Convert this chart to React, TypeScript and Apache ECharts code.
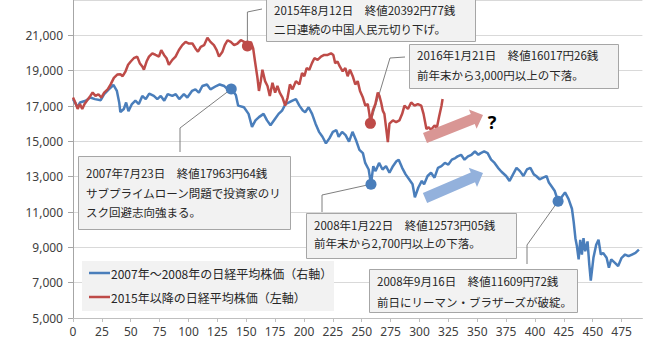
import React, { useEffect, useRef } from "react";
import * as echarts from "echarts";

const blueName = "2007年～2008年の日経平均株価（右軸）";
const redName = "2015年以降の日経平均株価（左軸）";

const xMin = 0;
const xMax = 493;
const xInterval = 25;
const yMin = 5000;
const yMax = 23000;
const yInterval = 2000;

// [trading day, close]
const blueSeries: [number, number][] = [
  [0, 17390], [4, 16930], [6, 17200], [11, 17300], [15, 17480], [19, 17390], [24, 17330], [27, 17670],
  [31, 17940], [35, 18190], [38, 17850], [40, 17200], [41, 16650], [44, 16830], [46, 17200], [48, 16700],
  [51, 17110], [54, 17300], [57, 17110], [60, 17570], [63, 17390], [66, 17700], [70, 17570], [73, 17390],
  [76, 17570], [79, 17300], [82, 17670], [86, 17570], [89, 17670], [92, 17390], [96, 17670], [99, 17480],
  [103, 17850], [106, 17940], [109, 17760], [112, 18130], [116, 18220], [119, 17940], [124, 18130],
  [127, 18220], [131, 18130], [134, 17940], [137, 17963], [141, 17620], [143, 17020], [148, 16930],
  [152, 16555], [155, 15815], [158, 16185], [161, 16370], [165, 16555], [168, 16185], [171, 15907],
  [175, 16278], [178, 16555], [181, 16741], [184, 17111], [187, 17200], [190, 17300], [193, 17389],
  [196, 17020], [199, 16741], [201, 16650], [204, 16930], [207, 16555], [210, 16000], [213, 15537],
  [216, 15259], [219, 14889], [222, 15167], [225, 15537], [228, 15630], [230, 15259], [233, 15537],
  [236, 15352], [239, 14982], [242, 15537], [245, 15074], [248, 14518], [251, 14333], [253, 13778],
  [256, 13407], [258, 12573], [260, 13593], [262, 13315], [265, 13778], [268, 13407], [271, 13593],
  [274, 13222], [277, 13593], [280, 13870], [282, 13963], [285, 13500], [288, 13130], [291, 12852],
  [294, 12574], [296, 11833], [299, 12389], [302, 12759], [304, 12574], [307, 13037], [310, 13222],
  [313, 12944], [316, 13500], [319, 13593], [322, 13778], [325, 13685], [328, 13963], [331, 14055],
  [333, 14148], [336, 14240], [339, 13963], [342, 14148], [345, 14240], [348, 14426], [351, 14240],
  [353, 14333], [356, 14426], [359, 14333], [362, 13963], [365, 13778], [368, 13500], [371, 13280],
  [375, 13037], [378, 12759], [381, 13130], [384, 13500], [387, 13315], [390, 13037], [393, 13407],
  [396, 13500], [399, 13130], [401, 13037], [404, 12852], [407, 12944], [410, 13037], [412, 12667],
  [414, 12482], [417, 12204], [420, 11609], [423, 11833], [426, 12111], [429, 11740], [432, 11185],
  [433.5, 10444], [435, 9518], [436.3, 9056], [437.8, 8315], [439.2, 9426], [440.6, 8593], [442, 9518],
  [443.5, 8778], [445.5, 9333], [447, 8037], [448.3, 7111], [450.6, 8407], [453, 9148], [455, 9426],
  [457, 8593], [459, 8685], [462, 8407], [464, 7852], [466, 8315], [469, 8130], [472, 7944], [475, 8407],
  [478, 8593], [481, 8500], [484, 8593], [487, 8685], [490, 8870],
];

const redSeries: [number, number][] = [
  [0, 17480], [2, 17200], [4, 16833], [6, 17111], [8, 16833], [10, 17111], [12, 17300], [15, 17572],
  [17, 17760], [19.5, 17572], [22, 17667], [24.5, 17480], [27, 17760], [30, 17944], [32.6, 18222],
  [35.4, 18593], [38.3, 18778], [41, 18800], [43, 18685], [45.5, 18963], [47.7, 19333], [50, 19518],
  [52.6, 19704], [55.6, 19796], [57.8, 19426], [60, 19240], [61.4, 19055], [63.7, 19518], [65.8, 19796],
  [68.7, 19982], [71.5, 19889], [74.4, 19796], [76.4, 20167], [78.8, 19889], [81, 19704], [83, 19333],
  [86, 19611], [88.8, 19796], [91.7, 20167], [94.6, 20444], [97.5, 20630], [100.4, 20537], [103.4, 20537],
  [106, 20259], [108.2, 20074], [110.6, 20352], [113.5, 20444], [116.4, 20868], [119, 20630], [122, 20444],
  [124.4, 20167], [126.4, 19796], [129.4, 20074], [131.4, 20444], [133.8, 20722], [136.6, 20630],
  [139.5, 20444], [142.4, 20537], [145.3, 20722], [148.2, 20630], [151, 20392], [154, 20630], [156, 20259],
  [157.6, 19518], [159.7, 18593], [161, 17852], [162.6, 18407], [164, 19055], [166.3, 18407], [168.4, 18130],
  [170.4, 17572], [172.7, 18315], [175, 17760], [177, 18130], [179, 17760], [181.4, 17480], [183.7, 17020],
  [185.8, 17480], [187.8, 18222], [190.1, 17944], [193, 18407], [196, 18222], [198.3, 18870], [200.3, 18685],
  [202.3, 19148], [204.6, 19055], [206.9, 19426], [209, 19704], [211.8, 19611], [214.7, 19796], [217.5, 19889],
  [220.5, 19889], [223.4, 19982], [225.4, 19889], [227, 19426], [229, 19518], [231, 19240], [233.5, 18963],
  [235.8, 19148], [237.8, 18685], [239.8, 19055], [242.2, 18685], [244.4, 18222], [246.5, 18407],
  [248.5, 17852], [251, 17480], [253.1, 17020], [255.2, 17111], [256.6, 16555], [257.5, 16017], [259.6, 16741],
  [261.8, 17111], [263.9, 17760], [265.3, 17572], [266.8, 17200], [268.2, 16741], [269.6, 16555], [271, 15815],
  [272.6, 14952], [274, 16000], [277, 16185], [279.8, 16093], [282.6, 16185], [285, 16555], [287, 17020],
  [290, 16833], [292.8, 17200], [295.7, 17020], [298.6, 17111], [301.5, 17020], [303.5, 16555], [306, 15700],
  [308, 15800], [310, 15650], [313, 15900], [315, 15750], [317, 16400], [319, 17000], [320, 17400],
];

const blueEvents: [number, number][] = [[137, 17963], [258, 12573], [420, 11609]];
const redEvents: [number, number][] = [[151, 20392], [257.5, 16017]];

const noteTexts: string[][] = [
  ["2015年8月12日　終値20392円77銭", "二日連続の中国人民元切り下げ。"],
  ["2016年1月21日　終値16017円26銭", "前年末から3,000円以上の下落。"],
  ["2007年7月23日　終値17963円64銭", "サブプライムローン問題で投資家のリ", "スク回避志向強まる。"],
  ["2008年1月22日　終値12573円05銭", "前年末から2,700円以上の下落。"],
  ["2008年9月16日　終値11609円72銭", "前日にリーマン・ブラザーズが破綻。"],
];

const BLUE = "#4a7ebb";
const RED = "#be4b48";
const CJK = '"Noto Sans CJK JP", "Noto Sans", sans-serif';

function arrowPoints(tx: number, ty: number, px: number, py: number, sh: number, hh: number, hl: number) {
  const dx = px - tx;
  const dy = py - ty;
  const len = Math.sqrt(dx * dx + dy * dy);
  const ux = dx / len, uy = dy / len;
  const nx = -uy, ny = ux;
  const bx = px - ux * hl, by = py - uy * hl;
  return [
    [tx + nx * sh, ty + ny * sh],
    [bx + nx * sh, by + ny * sh],
    [bx + nx * hh, by + ny * hh],
    [px, py],
    [bx - nx * hh, by - ny * hh],
    [bx - nx * sh, by - ny * sh],
    [tx - nx * sh, ty - ny * sh],
  ];
}

export default function App() {
  const ref = useRef<HTMLDivElement>(null);
  useEffect(() => {
    document.body.style.margin = "0";
    const chart = echarts.init(ref.current!, undefined, { renderer: "svg" });
    chart.setOption({
      animation: false,
      backgroundColor: "#ffffff",
      grid: { left: 73, right: 16.6, top: -6, bottom: 27 },
      xAxis: {
        type: "value",
        min: xMin,
        max: xMax,
        interval: xInterval,
        axisLine: { show: true, lineStyle: { color: "#bfbfbf" } },
        axisTick: { show: true, length: 4, lineStyle: { color: "#bfbfbf" } },
        splitLine: { show: false },
        axisLabel: { fontSize: 12, fontFamily: "Noto Sans", color: "#404040", margin: 7, showMaxLabel: false },
      },
      yAxis: {
        type: "value",
        min: yMin,
        max: yMax,
        interval: yInterval,
        axisLine: { show: true, lineStyle: { color: "#a6a6a6" } },
        axisTick: { show: true, length: 5, lineStyle: { color: "#a6a6a6" } },
        splitLine: { show: true, lineStyle: { color: "#d9d9d9" } },
        axisLabel: {
          fontSize: 12,
          fontFamily: "Noto Sans",
          color: "#404040",
          margin: 10,
          showMaxLabel: false,
          formatter: (v: number) => v.toLocaleString("en-US"),
        },
      },
      series: [
        {
          name: blueName,
          type: "line",
          data: blueSeries,
          symbol: "none",
          lineStyle: { width: 2.5, color: BLUE },
          itemStyle: { color: BLUE },
          z: 3,
        },
        {
          name: redName,
          type: "line",
          data: redSeries,
          symbol: "none",
          lineStyle: { width: 2.5, color: RED },
          itemStyle: { color: RED },
          z: 3,
        },
        {
          name: "blueEvents",
          type: "scatter",
          data: blueEvents,
          symbolSize: 11,
          itemStyle: { color: BLUE, opacity: 1 },
          z: 5,
        },
        {
          name: "redEvents",
          type: "scatter",
          data: redEvents,
          symbolSize: 11,
          itemStyle: { color: RED, opacity: 1 },
          z: 5,
        },
      ],
    });

    const toPx = (p: [number, number]) => chart.convertToPixel({ gridIndex: 0 }, p) as number[];

    const boxes = [
      { x: 266, y: -2, w: 209, h: 43, tx: 274, ly: [10, 29] },
      { x: 409, y: 44, w: 209, h: 44, tx: 417, ly: [55, 75] },
      { x: 78, y: 156, w: 212, h: 73, tx: 86, ly: [173, 193, 212] },
      { x: 306, y: 213, w: 210, h: 45, tx: 314, ly: [225, 243] },
      { x: 369, y: 269, w: 208, h: 43, tx: 377, ly: [281, 302] },
    ];

    const d1 = toPx(redEvents[0]);
    const d2 = toPx(redEvents[1]);
    const d3 = toPx(blueEvents[0]);
    const d4 = toPx(blueEvents[1]);
    const d5 = toPx(blueEvents[2]);
    const leaders = [
      [d1, [d1[0], 12], [262, 9]],
      [d2, [390, 58], [405, 57]],
      [d3, [180, 128], [180, 152]],
      [d4, [322, 195], [322, 212]],
      [d5, [527, 245], [527, 264]],
    ];

    const graphic: any[] = [];
    leaders.forEach((pts) => {
      graphic.push({
        type: "polyline",
        z: 1,
        shape: { points: pts },
        style: { stroke: "#7f7f7f", lineWidth: 1, fill: "none" },
      });
    });
    boxes.forEach((b, i) => {
      graphic.push({
        type: "rect",
        z: 100,
        shape: { x: b.x + 0.5, y: b.y + 0.5, width: b.w, height: b.h },
        style: { fill: "#f2f2f2", stroke: "#a6a6a6", lineWidth: 1 },
      });
      noteTexts[i].forEach((t, j) => {
        graphic.push({
          type: "text",
          z: 101,
          style: {
            text: t,
            x: b.tx,
            y: b.ly[j],
            fill: "#262626",
            fontSize: 11.5,
            fontFamily: CJK,
            verticalAlign: "middle",
            align: "left",
          },
        });
      });
    });

    // legend box
    graphic.push({
      type: "rect",
      z: 100,
      shape: { x: 82, y: 261, width: 252, height: 50 },
      style: { fill: "#f2f2f2" },
    });
    [
      { name: blueName, color: BLUE, y: 273 },
      { name: redName, color: RED, y: 297 },
    ].forEach((it) => {
      graphic.push({
        type: "line",
        z: 101,
        shape: { x1: 89, y1: it.y, x2: 110, y2: it.y },
        style: { stroke: it.color, lineWidth: 2.5 },
      });
      graphic.push({
        type: "text",
        z: 101,
        style: {
          text: it.name,
          x: 111,
          y: it.y,
          fill: "#262626",
          fontSize: 12,
          fontFamily: CJK,
          verticalAlign: "middle",
          align: "left",
        },
      });
    });

    graphic.push({
      type: "polygon",
      z: 100,
      shape: { points: arrowPoints(425, 138, 483, 115, 5.4, 10.4, 11) },
      style: { fill: "#d99694" },
    });
    graphic.push({
      type: "polygon",
      z: 100,
      shape: { points: arrowPoints(425, 198, 483, 173, 5.4, 10.4, 11) },
      style: { fill: "#93b1dc" },
    });
    graphic.push({
      type: "text",
      z: 101,
      style: {
        text: "?",
        x: 492,
        y: 122,
        fill: "#000000",
        fontSize: 18,
        fontWeight: "bold",
        fontFamily: "Noto Sans",
        align: "center",
        verticalAlign: "middle",
      },
    });
    chart.setOption({ graphic });

    return () => chart.dispose();
  }, []);
  return <div ref={ref} style={{ width: 659, height: 345 }} />;
}
